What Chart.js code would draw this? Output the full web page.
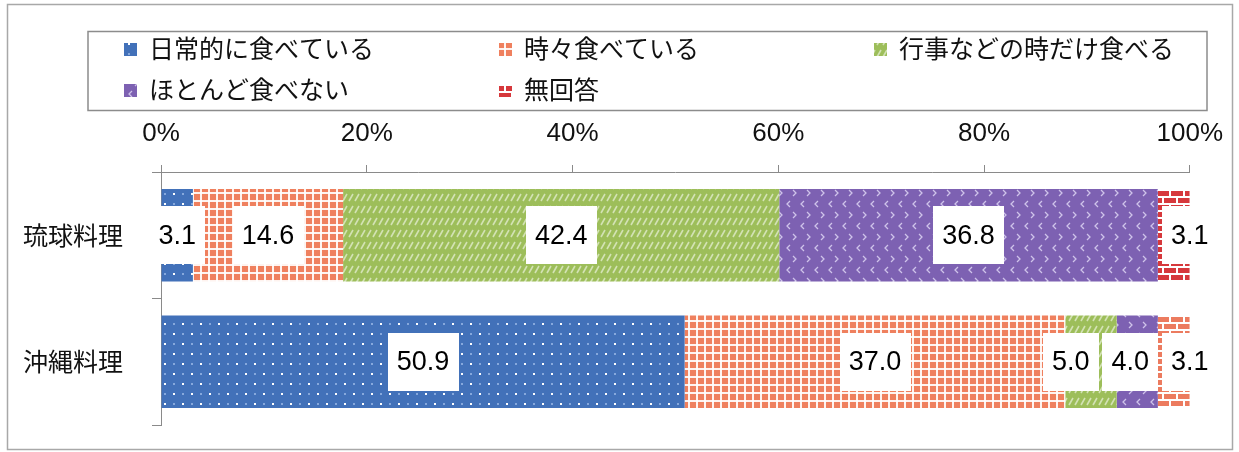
<!DOCTYPE html>
<html><head><meta charset="utf-8">
<script src="https://cdn.jsdelivr.net/npm/chart.js@4/dist/chart.umd.min.js"></script>
<style>html,body{margin:0;padding:0;background:#fff;}</style>
</head><body>
<canvas id="c" width="1239" height="452"></canvas>
<script>
// ---- data ----
const categories = ['琉球料理', '沖縄料理'];
const seriesNames = ['日常的に食べている', '時々食べている', '行事などの時だけ食べる', 'ほとんど食べない', '無回答'];
const daily = [3.1, 50.9];
const sometimes = [14.6, 37.0];
const eventsOnly = [42.4, 5.0];
const rarely = [36.8, 4.0];
const noAnswer = [3.1, 3.1];
const xTicks = [0, 20, 40, 60, 80, 100];

// ---- patterns ----
const canvas = document.getElementById('c');
const mainCtx = canvas.getContext('2d');
function makePattern(w, h, bg, draw) {
  const c = document.createElement('canvas'); c.width = w; c.height = h;
  const g = c.getContext('2d'); g.fillStyle = bg; g.fillRect(0, 0, w, h); draw(g);
  return mainCtx.createPattern(c, 'repeat');
}
const bluePat = makePattern(18, 20, '#4271b9', g => {
  g.fillStyle = '#ffffff'; g.fillRect(2, 3, 2, 2); g.fillRect(11, 13, 2, 2);
  g.fillStyle = '#86a8dc'; g.fillRect(11, 3, 2, 2); g.fillRect(2, 13, 2, 2);
});
const orangePat = makePattern(8, 8, '#ef805e', g => {
  g.fillStyle = 'rgba(255,255,255,0.9)'; g.fillRect(0, 0, 8, 2); g.fillRect(0, 0, 2, 8);
});
const greenPat = makePattern(6, 12, '#9dbe5a', g => {
  g.strokeStyle = 'rgba(255,255,255,0.55)'; g.lineWidth = 1.6;
  g.beginPath(); g.moveTo(1, 9); g.lineTo(5, 2); g.stroke();
});
const purplePat = makePattern(14, 22, '#7d61b2', g => {
  g.strokeStyle = '#cfc3ea'; g.lineWidth = 1.3;
  g.beginPath(); g.moveTo(6, 3); g.lineTo(3, 6); g.lineTo(6, 9); g.stroke();
  g.beginPath(); g.moveTo(9, 14); g.lineTo(12, 17); g.lineTo(9, 20); g.stroke();
});
function brick(bg) {
  return makePattern(14, 14, bg, g => {
    g.fillStyle = '#ffffff';
    g.fillRect(0, 0, 14, 2); g.fillRect(0, 7, 14, 2);
    g.fillRect(0, 0, 2, 7); g.fillRect(7, 7, 2, 7);
  });
}
const redPat = brick('#d6383c');
const salmonPat = brick('#ec7b5f');

const seriesData = [daily, sometimes, eventsOnly, rarely, noAnswer];
const seriesFill = [bluePat, orangePat, greenPat, purplePat, [redPat, salmonPat]];

// ---- plugins ----
const frameLegend = {
  id: 'frameLegend',
  afterDraw(chart) {
    const ctx = chart.ctx; ctx.save();
    ctx.strokeStyle = '#a8a8a8'; ctx.lineWidth = 1.5;
    ctx.strokeRect(7.5, 4.5, 1225, 445);
    ctx.strokeStyle = '#8c8c8c'; ctx.lineWidth = 1.5;
    ctx.strokeRect(88, 31.5, 1119, 79);
    ctx.font = '25px "Noto Sans CJK JP", sans-serif';
    ctx.textBaseline = 'middle'; ctx.textAlign = 'left';
    chart.data.datasets.forEach((ds, i) => {
      const col = i % 3, row = Math.floor(i / 3);
      const mx = 124 + col * 375, my = 49 + row * 41;
      const fill = Array.isArray(ds.backgroundColor) ? ds.backgroundColor[0] : ds.backgroundColor;
      ctx.fillStyle = fill; ctx.fillRect(mx, my - 6, 13, 13);
      ctx.fillStyle = '#111'; ctx.fillText(ds.label, mx + 25, my - 1);
    });
    ctx.restore();
  }
};
const boxLabels = {
  id: 'boxLabels',
  afterDatasetsDraw(chart) {
    const ctx = chart.ctx; ctx.save();
    ctx.font = '27px "Liberation Sans", Arial, sans-serif';
    ctx.textAlign = 'center'; ctx.textBaseline = 'middle';
    const n = chart.data.datasets.length, gap = 4, boxH = 58;
    chart.data.labels.forEach((_, i) => {
      const items = [];
      for (let d = 0; d < n; d++) {
        const el = chart.getDatasetMeta(d).data[i];
        const txt = chart.data.datasets[d].data[i].toFixed(1);
        items.push({ txt, w: ctx.measureText(txt).width + 18, x: (el.base + el.x) / 2, y: el.y, end: el.x });
      }
      items[n - 1].x = items[n - 1].end;
      for (let k = n - 2; k >= 0; k--) {
        const nx = items[k + 1];
        const lim = nx.x - (nx.w + items[k].w) / 2 - gap;
        if (items[k].x > lim) items[k].x = lim;
      }
      items.forEach(it => {
        ctx.fillStyle = '#ffffff';
        ctx.fillRect(Math.round(it.x - it.w / 2), Math.round(it.y - boxH / 2), Math.round(it.w), boxH);
        ctx.fillStyle = '#000000';
        ctx.fillText(it.txt, it.x, it.y + 1);
      });
    });
    ctx.restore();
  }
};

new Chart(canvas, {
  type: 'bar',
  data: {
    labels: categories,
    datasets: seriesNames.map((name, i) => ({
      label: name,
      data: seriesData[i],
      backgroundColor: seriesFill[i],
      borderWidth: 0,
      barPercentage: 0.73,
      categoryPercentage: 1.0
    }))
  },
  options: {
    indexAxis: 'y',
    responsive: false,
    animation: false,
    devicePixelRatio: 1,
    layout: { padding: { top: 0, left: 23, right: 48, bottom: 27 } },
    plugins: { legend: { display: false }, tooltip: { enabled: false } },
    scales: {
      x: {
        position: 'top', stacked: true, min: 0, max: 100,
        afterFit(s) { s.height = 172; },
        afterBuildTicks(s) { s.ticks = xTicks.map(v => ({ value: v })); },
        ticks: { callback: v => v + '%', color: '#111', padding: 16,
          font: { family: '"Liberation Sans", Arial, sans-serif', size: 26 } },
        grid: { drawOnChartArea: false, tickLength: 7, color: '#8a8a8a' },
        border: { color: '#8a8a8a' }
      },
      y: {
        stacked: true,
        afterFit(s) { s.width = 138; },
        ticks: { color: '#111', padding: 0, crossAlign: 'far',
          font: { family: '"Noto Sans CJK JP", sans-serif', size: 25 } },
        grid: { offset: true, drawOnChartArea: false, tickLength: 9, color: '#8a8a8a' },
        border: { color: '#8a8a8a' }
      }
    }
  },
  plugins: [boxLabels, frameLegend]
});
</script>
</body></html>
